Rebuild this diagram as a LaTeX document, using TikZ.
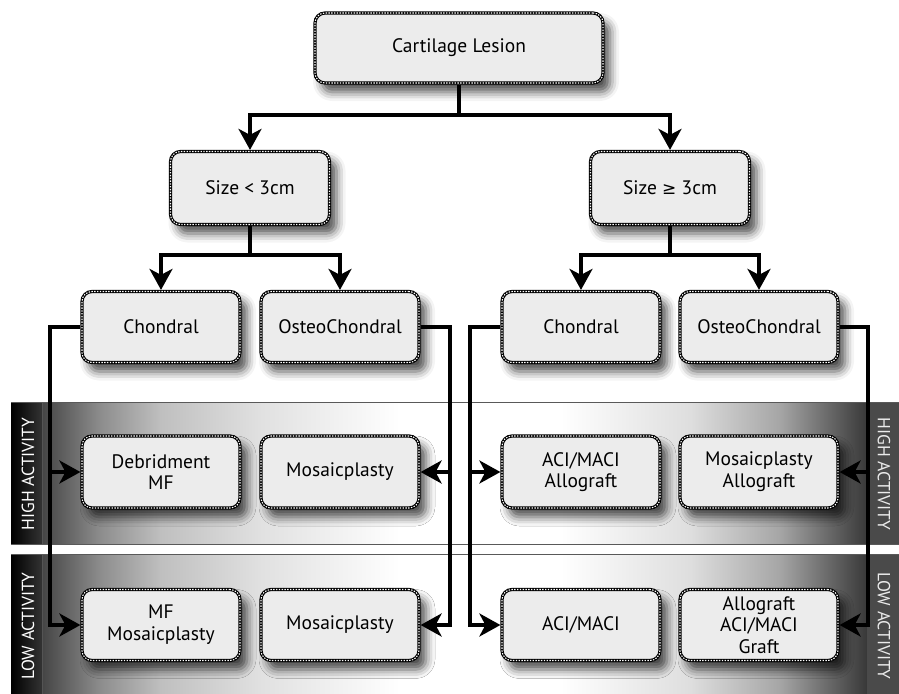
\documentclass[tikz,border=0pt]{standalone}
\usepackage{fontspec}
\setmainfont{PT Sans}
\newfontfamily\symf{DejaVu Sans}
\usetikzlibrary{arrows.meta,shadows.blur}
\definecolor{boxfill}{HTML}{ECECEC}
\definecolor{rstrip}{HTML}{4A4A4A}
\pgfdeclarehorizontalshading{bandshade}{100bp}{rgb(0bp)=(0.27,0.27,0.27); rgb(25bp)=(0.27,0.27,0.27); rgb(28.5bp)=(0.55,0.55,0.55); rgb(32.2bp)=(0.75,0.75,0.75); rgb(38.2bp)=(0.88,0.88,0.88); rgb(46.7bp)=(1,1,1); rgb(56.4bp)=(1,1,1); rgb(64.3bp)=(0.87,0.87,0.87); rgb(69.7bp)=(0.65,0.65,0.65); rgb(72.8bp)=(0.40,0.40,0.40); rgb(75bp)=(0.22,0.22,0.22); rgb(100bp)=(0.22,0.22,0.22)}
\tikzset{
  box/.style={rounded corners=10pt, fill=boxfill, draw=black, line width=3.2pt,
    minimum width=158pt, minimum height=71pt, align=center, inner sep=2pt,
    font=\fontsize{19.5}{21.7}\selectfont,
    blur shadow={shadow xshift=7pt, shadow yshift=-9pt, shadow blur radius=9pt, shadow opacity=70},
    postaction={draw=white, line width=1.1pt, dash pattern=on 1.4pt off 1.4pt}},
  conn/.style={line width=3.6pt, draw=black},
  arr/.style={conn, -{Stealth[length=21pt,width=23pt,inset=6pt]}},
  band/.style={shading=bandshade, draw=black!65, line width=0.8pt},
  striptext/.style={text=white, font=\fontsize{17.5}{17.5}\selectfont, inner sep=0pt}
}
\begin{document}
\begin{tikzpicture}[x=1pt,y=-1pt]
\useasboundingbox (0,0) rectangle (899,693);
% bands
\shade[band] (42,402) rectangle (867,544);
\shade[band] (42,554) rectangle (867,695);
\shade[left color=black, right color=black!80] (11,402) rectangle (42,544);
\shade[left color=black, right color=black!80] (11,554) rectangle (42,695);
\fill[rstrip] (867,402) rectangle (899,544);
\fill[rstrip] (867,554) rectangle (899,695);
\draw[black!65, line width=0.8pt] (11,402) -- (899,402) (11,544) -- (899,544) (11,554) -- (899,554);
\node[striptext, rotate=90] (hl) at (28,474) {HIGH ACTIVITY};
\node[striptext, rotate=90] (ll) at (28,626) {LOW ACTIVITY};
\node[striptext, rotate=-90, text=black!8] (hr) at (884,474) {HIGH ACTIVITY};
\node[striptext, rotate=-90, text=black!8] (lr) at (884,626) {LOW ACTIVITY};
% nodes
\node[box, minimum width=288pt, minimum height=70pt] (root) at (459,48) {Cartilage Lesion};
\node[box, minimum width=159pt, minimum height=73pt] (sl) at (250,188) {Size < 3cm};
\node[box, minimum width=159pt, minimum height=73pt] (sg) at (670,188) {Size {\symf\fontsize{17}{17}\selectfont ≥} 3cm};
\node[box] (c1) at (161,327) {Chondral};
\node[box] (o1) at (340,327) {OsteoChondral};
\node[box] (c2) at (581,327) {Chondral};
\node[box] (o2) at (759,327) {OsteoChondral};
\node[box, minimum height=72pt] (h1) at (161,472) {Debridment\\MF};
\node[box, minimum height=72pt] (h2) at (340,472) {Mosaicplasty};
\node[box, minimum height=72pt] (h3) at (581,472) {ACI/MACI\\Allograft};
\node[box, minimum height=72pt] (h4) at (759,472) {Mosaicplasty\\Allograft};
\node[box] (l1) at (161,625) {MF\\Mosaicplasty};
\node[box] (l2) at (340,625) {Mosaicplasty};
\node[box] (l3) at (581,625) {ACI/MACI};
\node[box] (l4) at (759,625) {Allograft\\ACI/MACI\\Graft};
% junctions
\coordinate (j0) at (459,115);
\coordinate (j1) at (250,255);
\coordinate (j2) at (670,255);
\coordinate (k1) at (50,327);
\coordinate (k2) at (450,327);
\coordinate (k3) at (470,327);
\coordinate (k4) at (868,327);
% connectors
\draw[conn] (root.south) -- (j0);
\draw[arr] (j0) -| (sl.north);
\draw[arr] (j0) -| (sg.north);
\draw[conn] (sl.south) -- (j1);
\draw[arr] (j1) -| (c1.north);
\draw[arr] (j1) -| (o1.north);
\draw[conn] (sg.south) -- (j2);
\draw[arr] (j2) -| (c2.north);
\draw[arr] (j2) -| (o2.north);
\draw[arr] (c1.west) -- (k1) |- (h1.west);
\draw[arr] (k1) |- (l1.west);
\draw[arr] (o1.east) -- (k2) |- (h2.east);
\draw[arr] (k2) |- (l2.east);
\draw[arr] (c2.west) -- (k3) |- (h3.west);
\draw[arr] (k3) |- (l3.west);
\draw[arr] (o2.east) -- (k4) |- (h4.east);
\draw[arr] (k4) |- (l4.east);
\end{tikzpicture}
\end{document}
